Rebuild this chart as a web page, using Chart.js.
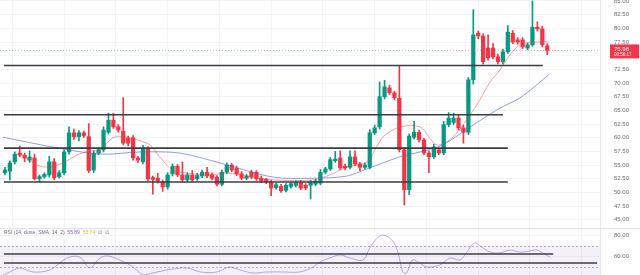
<!DOCTYPE html>
<html>
<head>
<meta charset="utf-8">
<script src="https://cdn.jsdelivr.net/npm/chart.js@4.4.0/dist/chart.umd.min.js"></script>
<style>
html, body { margin: 0; padding: 0; background: #fff; }
#wrap { position: relative; width: 640px; height: 275px; overflow: hidden; }
#mainChart { position: absolute; left: 0; top: 0; }
#rsiChart { position: absolute; left: 0; top: 228px; }
#rsiLabel { position: absolute; left: 4px; top: 229px; font: 5px "Liberation Sans", Arial, sans-serif; color: #6a6d78; white-space: nowrap; }
#rsiLabel b { font-weight: normal; color: #7e57c2; }
#rsiLabel i { font-style: normal; color: #d4c22a; }
</style>
</head>
<body>
<div id="wrap">
  <canvas id="mainChart" width="640" height="228"></canvas>
  <canvas id="rsiChart" width="640" height="47"></canvas>
  <div id="rsiLabel">RSI (14, close, SMA, 14, 2) &nbsp;<b>55.89</b> &nbsp;<i>53.74</i> &nbsp;∅ &nbsp;∅</div>
</div>
<script>
// velas (open / high / low / close), una por periodo
const opens = [
  53.6, 53.9, 55.6, 57.2, 56.8, 55.9, 56.3, 52.5, 52.9, 53.2,
  55.6, 52.9, 53.6, 57.4, 60.9, 60.2, 60.9, 60.2, 54.1, 57.2,
  57.8, 61.0, 63.2, 62.0, 61.2, 59.9, 60.0, 56.3, 55.6, 57.9,
  52.7, 52.6, 51.9, 51.0, 53.4, 54.8, 53.2, 52.3, 53.2, 52.5,
  53.0, 53.7, 53.2, 52.8, 51.5, 53.7, 55.0, 54.4, 53.4, 52.6,
  53.7, 53.7, 52.6, 52.4, 51.9, 50.9, 51.1, 50.4, 51.1, 51.3,
  51.8, 51.3, 51.3, 51.5, 51.7, 53.7, 54.3, 55.8, 56.3, 54.8,
  54.6, 56.5, 55.2, 54.6, 54.6, 60.9, 62.0, 67.5, 69.1, 68.2,
  67.2, 57.8, 50.5, 60.1, 61.0, 59.6, 57.2, 56.5, 57.8, 57.2,
  62.4, 62.8, 63.6, 61.8, 61.0, 70.6, 79.1, 78.6, 76.4, 76.4,
  74.8, 73.9, 75.7, 79.1, 77.9, 77.9, 76.4, 77.0, 80.2, 79.9,
  76.8
];
const highs = [
  54.6, 55.8, 57.4, 58.5, 57.2, 57.6, 57.0, 53.2, 53.6, 56.6,
  56.2, 54.0, 57.8, 62.0, 61.6, 61.3, 61.2, 62.6, 57.6, 58.2,
  62.0, 64.5, 64.5, 62.4, 67.3, 60.3, 60.4, 56.6, 58.6, 58.4,
  53.0, 53.5, 52.3, 53.6, 55.2, 55.1, 55.6, 53.6, 54.0, 53.5,
  54.1, 54.6, 53.6, 53.1, 54.1, 55.4, 55.3, 54.8, 53.8, 53.3,
  54.1, 54.0, 53.0, 52.6, 52.2, 51.7, 51.5, 51.6, 51.9, 52.1,
  52.2, 51.6, 52.2, 52.4, 54.2, 54.6, 56.4, 57.5, 57.6, 55.2,
  57.6, 57.6, 55.5, 55.4, 61.5, 62.3, 70.2, 70.5, 69.6, 68.5,
  73.1, 58.2, 60.7, 63.0, 61.4, 59.9, 57.6, 58.8, 58.1, 63.0,
  64.6, 64.5, 64.2, 62.3, 71.0, 83.4, 79.5, 79.0, 78.8, 77.2,
  75.3, 76.2, 80.5, 79.6, 78.3, 78.3, 77.3, 85.0, 81.2, 80.4,
  77.2
];
const lows = [
  53.2, 52.3, 55.2, 56.5, 55.6, 55.5, 52.3, 52.0, 52.6, 52.8,
  52.3, 52.6, 53.2, 57.0, 59.7, 59.4, 60.0, 53.6, 53.6, 56.9,
  57.4, 60.7, 61.7, 61.0, 58.7, 58.5, 55.9, 55.5, 55.2, 52.0,
  49.7, 51.7, 50.2, 50.6, 53.0, 52.9, 51.9, 52.0, 52.0, 52.2,
  52.7, 52.7, 52.3, 51.2, 51.2, 53.4, 53.8, 53.1, 52.3, 52.3,
  52.5, 52.2, 51.8, 51.6, 49.4, 50.6, 50.0, 50.1, 50.8, 51.0,
  50.5, 50.5, 48.8, 51.2, 51.4, 53.4, 54.0, 55.5, 54.2, 54.1,
  54.3, 54.9, 54.0, 54.3, 54.3, 60.6, 61.6, 67.1, 67.9, 66.9,
  57.4, 47.7, 49.6, 59.8, 59.2, 56.9, 53.6, 56.2, 56.9, 56.9,
  62.0, 62.4, 61.4, 59.0, 60.6, 69.8, 78.1, 73.5, 74.2, 74.4,
  73.5, 73.5, 75.4, 77.2, 77.1, 76.3, 76.1, 76.7, 79.5, 76.6,
  75.2
];
const closes = [
  54.1, 55.4, 57.0, 56.8, 56.3, 56.5, 52.5, 52.9, 53.3, 55.6,
  52.7, 53.6, 57.4, 60.9, 60.2, 60.9, 60.4, 54.0, 57.2, 57.8,
  61.4, 63.2, 62.0, 61.4, 59.0, 59.0, 56.3, 55.9, 58.1, 52.5,
  52.4, 52.1, 51.0, 53.2, 54.8, 53.2, 52.3, 53.2, 52.3, 53.1,
  53.7, 53.0, 52.6, 51.5, 53.7, 55.0, 54.1, 53.4, 52.6, 53.0,
  52.8, 52.5, 52.1, 51.9, 50.8, 51.4, 50.3, 51.3, 51.6, 51.8,
  50.8, 50.8, 51.9, 52.1, 53.7, 54.3, 56.0, 56.1, 54.5, 54.5,
  56.5, 55.2, 54.6, 55.0, 60.9, 61.8, 67.5, 69.3, 68.2, 67.3,
  57.8, 50.5, 60.3, 61.0, 59.6, 57.2, 56.5, 58.3, 57.2, 62.4,
  63.6, 63.6, 61.8, 61.0, 70.6, 78.8, 78.6, 73.9, 74.6, 74.8,
  73.9, 75.7, 79.3, 77.5, 77.5, 76.6, 77.0, 80.2, 79.9, 77.0,
  75.96
];

// medias moviles: [periodo, valor]
const maFast = [
  [3.0, 57.2], [6.5, 55.0], [9.1, 54.65], [11.8, 55.4], [14.6, 56.85], [17.2, 57.6],
  [19.3, 57.8], [21.9, 60.0], [24.3, 60.15], [26.8, 59.6], [29.4, 58.7], [31.4, 56.5],
  [34.1, 54.1], [41.0, 53.2], [45.0, 53.55], [47.7, 53.2], [54.4, 52.3], [62.5, 52.3],
  [65.9, 53.2], [69.4, 54.65], [73.4, 55.55], [76.7, 60.15], [80.1, 61.95], [84.2, 61.95],
  [87.6, 58.7], [90.9, 60.15], [95.7, 66.0], [98.4, 70.2], [100.4, 72.4], [102.4, 75.1],
  [104.5, 77.0], [107.5, 77.5], [110.3, 77.5]
];
const maSlow = [
  [-0.4, 60.1], [9.7, 58.3], [19.3, 57.0], [27.4, 57.4], [35.5, 57.2], [43.6, 55.4],
  [54.4, 52.8], [62.5, 52.6], [69.4, 53.0], [74.0, 54.5], [80.1, 56.5], [84.2, 57.4],
  [88.8, 58.7], [94.9, 62.3], [100.4, 65.4], [104.5, 67.3], [110.3, 71.5]
];

const rsiPoints = [
  [-0.4, 41.9], [1.0, 44.8], [3.0, 48.6], [5.7, 44.8], [9.1, 46.7], [12.6, 58.1],
  [15.2, 59.0], [17.2, 48.6], [19.3, 58.1], [20.9, 60.0], [23.3, 56.2], [26.0, 49.5],
  [28.0, 41.9], [30.0, 43.8], [32.9, 46.7], [36.9, 48.6], [39.6, 44.8], [43.0, 44.8],
  [45.6, 49.5], [47.7, 46.7], [50.3, 43.8], [53.1, 44.8], [56.4, 44.8], [59.8, 44.8],
  [62.5, 49.5], [63.9, 54.3], [65.9, 58.1], [68.0, 61.0], [70.0, 58.1], [72.6, 56.2],
  [74.0, 67.6], [75.5, 77.1], [76.7, 80.0], [78.5, 75.2], [79.7, 63.8], [80.7, 44.8],
  [81.5, 43.8], [82.6, 56.2], [83.8, 54.3], [85.6, 49.5], [88.2, 51.4], [90.3, 58.1],
  [92.3, 56.2], [93.7, 63.8], [95.3, 72.4], [97.0, 67.6], [98.4, 63.8], [100.4, 62.9],
  [102.4, 65.7], [104.5, 63.8], [106.5, 64.8], [107.9, 65.7], [109.1, 62.9], [110.5, 59.0]
];

// niveles horizontales dibujados a mano
const levelValues = [73.2, 64.2, 58.1, 51.9];
const levelEnds = [109.1, 101.0, 102.0, 102.0];
const rsiLevelValues = [61.9, 53.3];
const rsiLevelEnds = [111.2, 120.1];

const priceTicks = [85, 82.5, 80, 77.5, 75, 72.5, 70, 67.5, 65, 62.5, 60, 57.5, 55, 52.5, 50, 47.5, 45];
const rsiTicks = [80, 60];
const countdown = '00:56:17';

const GREEN = '#089981';
const RED = '#f23645';
const X_MIN = -1, X_MAX = 120.7;
const AXIS_FONT = { family: 'Liberation Sans, Arial, sans-serif', size: 6 };

const colors = closes.map((c, i) => c >= opens[i] ? GREEN : RED);

function toXY(arr) {
    return arr.map(p => ({ x: p[0], y: p[1] }));
}
function levelDataset(v, end, start) {
    return {
        type: 'line',
        data: [{ x: start, y: v }, { x: end, y: v }],
        borderColor: '#3b3d45',
        borderWidth: 1.6,
        pointRadius: 0
    };
}

function rightAxis(min, max, ticks) {
    return {
        position: 'right',
        min: min,
        max: max,
        afterBuildTicks: s => { s.ticks = ticks.map(v => ({ value: v })); },
        afterFit: s => { s.width = 40; s.paddingTop = 0; s.paddingBottom = 0; },
        ticks: { color: '#6a6d78', font: AXIS_FONT, padding: 14, callback: v => v.toFixed(2) },
        grid: { color: '#f3f4f7', drawTicks: false },
        border: { color: '#e6e8ee' }
    };
}

const xAxis = {
    type: 'linear',
    min: X_MIN,
    max: X_MAX,
    offset: false,
    afterBuildTicks: s => {
        const t = [];
        for (let v = 1.5; v < X_MAX; v += 10.5) t.push({ value: v });
        s.ticks = t;
    },
    afterFit: s => { s.height = 0; s.paddingLeft = 0; s.paddingRight = 0; },
    ticks: { display: false },
    grid: { color: '#f3f4f7', drawTicks: false, offset: false },
    border: { display: false }
};

// linea punteada y etiqueta del ultimo precio
const priceTag = {
    id: 'priceTag',
    afterDraw(chart) {
        const { ctx, chartArea, scales } = chart;
        const last = closes[closes.length - 1];
        const y = scales.y.getPixelForValue(last);
        ctx.save();
        ctx.strokeStyle = 'rgba(242,54,69,0.45)';
        ctx.lineWidth = 1;
        ctx.setLineDash([1, 2]);
        ctx.beginPath();
        ctx.moveTo(chartArea.left, y);
        ctx.lineTo(chartArea.right, y);
        ctx.stroke();
        ctx.setLineDash([]);
        ctx.fillStyle = RED;
        ctx.fillRect(chartArea.right + 10, y - 6, 29, 14);
        ctx.fillStyle = '#fff';
        ctx.font = '6px Liberation Sans, Arial, sans-serif';
        ctx.textBaseline = 'middle';
        ctx.fillText(last.toFixed(2), chartArea.right + 14, y - 1.5);
        ctx.font = '4.5px Liberation Sans, Arial, sans-serif';
        ctx.fillText(countdown, chartArea.right + 14, y + 4);
        ctx.restore();
    }
};

const mainChart = new Chart(document.getElementById('mainChart'), {
    type: 'bar',
    data: {
        datasets: [
            levelDataset(levelValues[0], levelEnds[0], -0.2),
            levelDataset(levelValues[1], levelEnds[1], -0.2),
            levelDataset(levelValues[2], levelEnds[2], -0.2),
            levelDataset(levelValues[3], levelEnds[3], -0.2),
            {
                type: 'line',
                data: toXY(maSlow),
                borderColor: 'rgba(76,94,205,0.75)',
                borderWidth: 0.8,
                pointRadius: 0,
                tension: 0.3
            },
            {
                type: 'line',
                data: toXY(maFast),
                borderColor: 'rgba(242,54,69,0.6)',
                borderWidth: 0.8,
                pointRadius: 0,
                tension: 0.3
            },
            {
                data: closes.map((c, i) => ({ x: i, y: [lows[i], highs[i]] })),
                backgroundColor: colors,
                barThickness: 1,
                grouped: false
            },
            {
                data: closes.map((c, i) => ({ x: i, y: [opens[i], c] })),
                backgroundColor: colors,
                barThickness: 3.6,
                minBarLength: 1,
                grouped: false
            }
        ]
    },
    options: {
        responsive: false,
        animation: false,
        layout: { padding: 0 },
        plugins: { legend: { display: false }, tooltip: { enabled: false } },
        scales: {
            x: xAxis,
            y: rightAxis(43.5, 85.18, priceTicks)
        }
    },
    plugins: [priceTag]
});

// banda 70/30 y lineas punteadas del RSI
const rsiBand = {
    id: 'rsiBand',
    beforeDatasetsDraw(chart) {
        const { ctx, chartArea, scales } = chart;
        const y70 = scales.y.getPixelForValue(70);
        const y50 = scales.y.getPixelForValue(50);
        ctx.save();
        ctx.fillStyle = 'rgba(126,87,194,0.09)';
        ctx.fillRect(chartArea.left, y70, chartArea.right - chartArea.left, chartArea.bottom - y70);
        ctx.strokeStyle = 'rgba(120,123,134,0.55)';
        ctx.lineWidth = 1;
        ctx.setLineDash([2, 2]);
        [y70, y50].forEach(y => {
            ctx.beginPath();
            ctx.moveTo(chartArea.left, Math.round(y) + 0.5);
            ctx.lineTo(chartArea.right, Math.round(y) + 0.5);
            ctx.stroke();
        });
        ctx.setLineDash([]);
        ctx.strokeStyle = '#e0e3eb';
        ctx.beginPath();
        ctx.moveTo(0, 0.5);
        ctx.lineTo(chart.width, 0.5);
        ctx.stroke();
        ctx.restore();
    }
};

const rsiChart = new Chart(document.getElementById('rsiChart'), {
    type: 'line',
    data: {
        datasets: [
            levelDataset(rsiLevelValues[0], rsiLevelEnds[0], -0.2),
            levelDataset(rsiLevelValues[1], rsiLevelEnds[1], -0.2),
            {
                data: toXY(rsiPoints),
                borderColor: 'rgba(126,87,194,0.55)',
                borderWidth: 0.9,
                pointRadius: 0,
                tension: 0.35
            }
        ]
    },
    options: {
        responsive: false,
        animation: false,
        layout: { padding: 0 },
        plugins: { legend: { display: false }, tooltip: { enabled: false } },
        scales: {
            x: xAxis,
            y: rightAxis(41.9, 86.7, rsiTicks)
        }
    },
    plugins: [rsiBand]
});
</script>
</body>
</html>
